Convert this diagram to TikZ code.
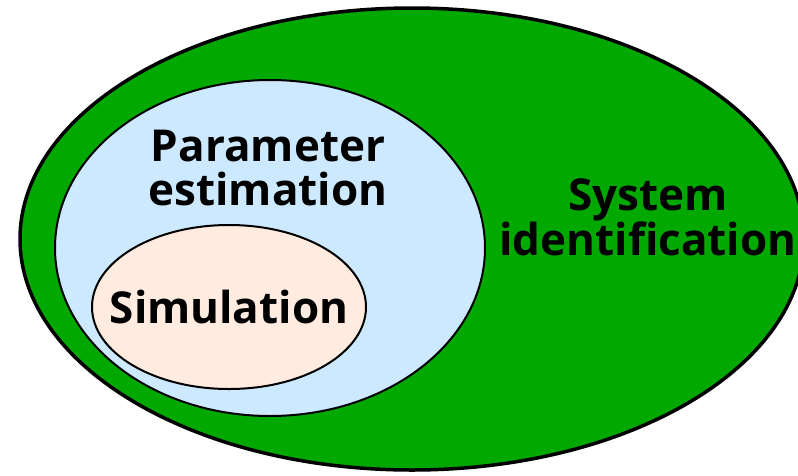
\documentclass[tikz,border=0pt]{standalone}
\usepackage{fontspec}
\setmainfont{Open Sans}
\usetikzlibrary{shapes.geometric}

\definecolor{sysgreen}{RGB}{0,168,0}
\definecolor{parblue}{RGB}{204,233,255}
\definecolor{simpeach}{RGB}{255,235,223}

\tikzset{
	setell/.style={ellipse, draw=black, inner sep=0pt},
	setlabel/.style={inner sep=0pt, align=center, font=\bfseries\fontsize{44}{44}\selectfont}
}

\begin{document}
\begin{tikzpicture}[x=1pt, y=-1pt]
	\useasboundingbox (0,0) rectangle (798,475);

	\node[setell, fill=sysgreen, line width=3.5pt, minimum width=784pt, minimum height=462pt] (sysid) at (412,239) {};
	\node[setell, fill=parblue, line width=2pt, minimum width=430pt, minimum height=336pt] (parest) at (270,248) {};
	\node[setell, fill=simpeach, line width=2pt, minimum width=274pt, minimum height=164pt] (sim) at (229,307) {};

	\node[setlabel] (parlabel) at (268,168) {Parameter\\estimation};
	\node[setlabel] (syslabel) at (648,217) {System\\identification};
	\node[setlabel] (simlabel) at (sim.center) {Simulation};
\end{tikzpicture}
\end{document}
